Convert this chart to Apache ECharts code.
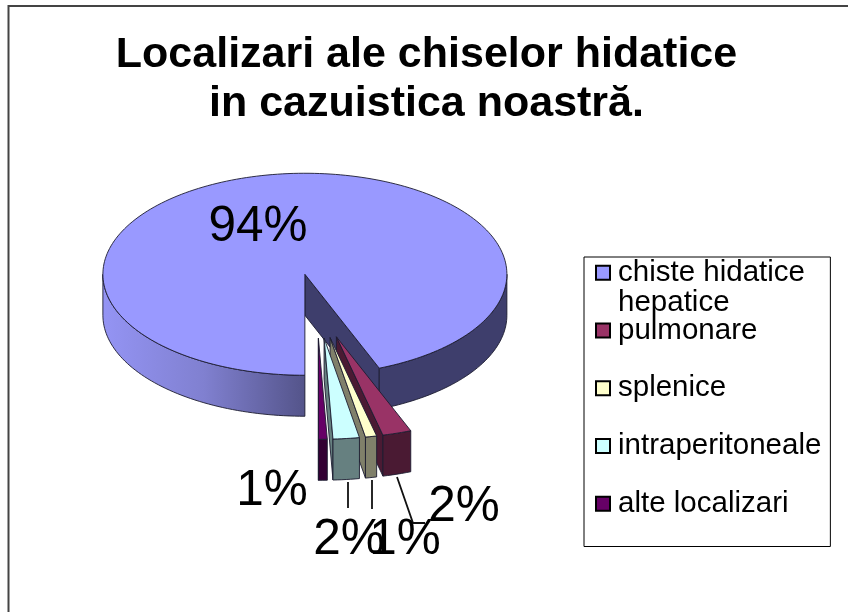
<!DOCTYPE html>
<html><head><meta charset="utf-8">
<style>html,body{margin:0;padding:0;background:#fff}#c{width:848px;height:612px}</style>
<script src="https://cdn.jsdelivr.net/npm/echarts@6/dist/echarts.min.js"></script>
</head><body><div id="c"></div>
<script>
const categories = ['chiste hidatice', 'pulmonare', 'splenice', 'intraperitoneale', 'alte localizari'];
const categoryContinuation = 'hepatice';
const values = [94, 2.3, 0.9, 2.1, 0.7];
const percentLabels = ['94%', '2%', '1%', '2%', '1%'];
const titleLines = ['Localizari ale chiselor hidatice', 'in cazuistica noastră.'];

const topColors = ['#9999ff', '#993366', '#ffffcc', '#ccffff', '#660066'];
const wallColors = ['#3e3e6c', '#4a1a33', '#80806a', '#668080', '#330033'];
const FONT = '"Liberation Sans", Arial, sans-serif';
const geo = { cx: 317, cy: 306, rx: 202, ry: 101, depth: 41, explode: 0.32, start: 180 };
const labelBoxes = [[258, 227], [464, 507], [405, 540], [349, 540], [272, 491]];
const leaders = [null, [[397, 477], [413, 523], [425, 523]], [[372, 480], [372, 509]], [[348, 482], [348, 508]], null];

const total = values.reduce((a, b) => a + b, 0);
const rad = d => d * Math.PI / 180;
function spans() {
  let a = geo.start; return values.map(v => { const s = a; a += v / total * 360; return [s, a]; });
}
const sliceSpans = spans();
function centre(i) {
  const m = rad((sliceSpans[i][0] + sliceSpans[i][1]) / 2);
  return [geo.cx + geo.explode * geo.rx * Math.sin(m), geo.cy - geo.explode * geo.ry * Math.cos(m)];
}
function pt(c, deg, dz) {
  return [c[0] + geo.rx * Math.sin(rad(deg)), c[1] - geo.ry * Math.cos(rad(deg)) + (dz || 0)];
}
function arc(c, a, b, dz) {
  const n = Math.max(2, Math.ceil(Math.abs(b - a) / 1.5)); const out = [];
  for (let k = 0; k <= n; k++) out.push(pt(c, a + (b - a) * k / n, dz));
  return out;
}
const edge = { stroke: '#1c1c30', lineWidth: 0.9 };
function poly(points, fill, extra) {
  return { type: 'polygon', shape: { points }, style: Object.assign({ fill }, edge, extra || {}) };
}
function grad(x0, x1, stops) {
  return { type: 'linear', global: true, x: x0, y: 0, x2: x1, y2: 0,
    colorStops: stops.map((c, i) => ({ offset: i / (stops.length - 1), color: c })) };
}
function wall(c, a, b, fill) {
  const top = arc(c, a, b, 0); const bot = arc(c, a, b, geo.depth).reverse();
  return poly(top.concat(bot), fill);
}
function renderSlice(i) {
  const c = centre(i); const [a, b] = sliceSpans[i]; const ch = [];
  const d = geo.depth;
  const apex = c, apexB = [c[0], c[1] + d];
  const q = pt(c, b), qB = pt(c, b, d);
  ch.push(poly([apex, q, qB, apexB], wallColors[i]));
  if (i === 0) {
    ch.push(wall(c, 180, 270, grad(c[0] - geo.rx, c[0], ['#9494f4', '#8080d0', '#54548a'])));
    ch.push(wall(c, b - 360, 90, wallColors[0]));
  } else {
    ch.push(wall(c, a, b, wallColors[i]));
  }
  ch.push(poly([apex].concat(arc(c, a, b, 0)), topColors[i]));
  return ch;
}
const labelText = (i) => ({
  type: 'text', silent: true,
  style: { x: labelBoxes[i][0], y: labelBoxes[i][1], text: percentLabels[i], font: '49.5px ' + FONT,
    fill: '#000', align: 'center', verticalAlign: 'middle' }
});
const leaderLine = (i) => leaders[i] ? [{ type: 'polyline', shape: { points: leaders[i] },
  style: { stroke: '#111', lineWidth: 1.8, fill: null } }] : [];

// painter order: main pie first, then exploded slices from right to left
const series = categories.map((name, i) => ({
  type: 'custom', name, coordinateSystem: 'none',
  data: [values[i]], z: 2 + i,
  itemStyle: { color: topColors[i] },
  renderItem: () => ({ type: 'group', children: renderSlice(i).concat(leaderLine(i), [labelText(i)]) })
}));

const chart = echarts.init(document.getElementById('c'), null, { renderer: 'canvas' });
chart.setOption({
  animation: false,
  backgroundColor: '#fff',
  title: { show: false },
  legend: {
    orient: 'vertical', left: 584, top: 257, selectedMode: false,
    data: categories, icon: 'rect', itemWidth: 14, itemHeight: 14, itemGap: 26.25,
    padding: [0, 9, 27, 11], backgroundColor: '#fff', borderColor: '#000', borderWidth: 1,
    itemStyle: { borderColor: '#000', borderWidth: 2 },
    lineStyle: { show: false },
    textStyle: { fontFamily: FONT, fontSize: 29.5, lineHeight: 31.5, color: '#000', padding: [0, 0, 0, 3] }
  },
  series,
  graphic: [
    { type: 'polyline', shape: { points: [[8.5, 612], [8.5, 6], [848, 6]] }, style: { stroke: '#444', lineWidth: 2, fill: null } },
    { type: 'text', z: 100, style: { x: 426.5, y: 55, text: titleLines[0], font: 'bold 43px ' + FONT, fill: '#000', align: 'center', verticalAlign: 'middle' } },
    { type: 'text', z: 100, style: { x: 426.5, y: 104, text: titleLines[1], font: 'bold 43px ' + FONT, fill: '#000', align: 'center', verticalAlign: 'middle' } },
    { type: 'text', z: 100, style: { x: 618, y: 303, text: categoryContinuation, font: '29.5px ' + FONT, fill: '#000', align: 'left', verticalAlign: 'middle' } }
  ]
});
</script></body></html>
